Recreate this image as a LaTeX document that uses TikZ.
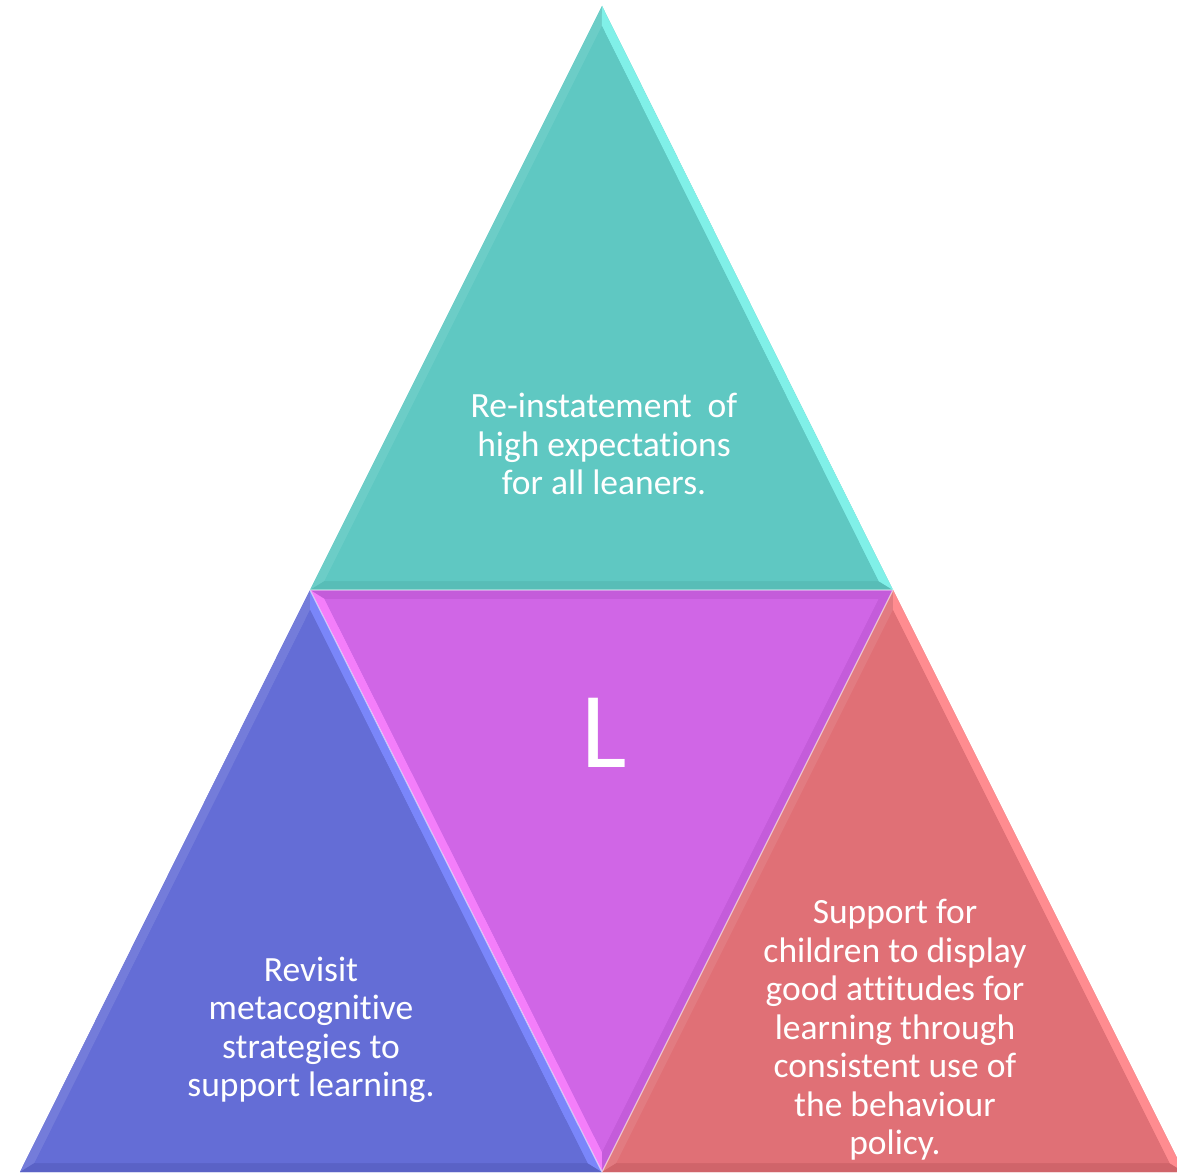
\documentclass[tikz,border=0pt]{standalone}
\usepackage{fontspec}
\setmainfont{Carlito}[Ligatures=NoCommon]
\usetikzlibrary{calc}
\definecolor{tealM}{HTML}{5FC8C2}
\definecolor{tealL}{HTML}{80F0E8}
\definecolor{tealD}{HTML}{58BDB7}
\definecolor{purM}{HTML}{D066E6}
\definecolor{purL}{HTML}{F47EFA}
\definecolor{purD}{HTML}{C45CDA}
\definecolor{bluM}{HTML}{646DD6}
\definecolor{bluL}{HTML}{7A86FA}
\definecolor{bluD}{HTML}{5A62C6}
\definecolor{redM}{HTML}{E07076}
\definecolor{redL}{HTML}{FF8C90}
\definecolor{redD}{HTML}{D0646A}
\tikzset{
  lbl/.style={text=white, align=center, font=\fontsize{35.5}{38.5}\selectfont, inner sep=0pt},
  seam/.style={draw=white, line width=1.2pt, opacity=0.55, line join=round}
}
% \bevtri{A}{B}{C}{I}{main}{colAB}{colBC}{colCA}
\newcommand\bevtri[8]{%
  \coordinate (A') at ($(#1)!0.05!(#4)$);
  \coordinate (B') at ($(#2)!0.05!(#4)$);
  \coordinate (C') at ($(#3)!0.05!(#4)$);
  \fill[#5] (#1) -- (#2) -- (#3) -- cycle;
  \fill[#6] (#1) -- (#2) -- (B') -- (A') -- cycle;
  \fill[#7] (#2) -- (#3) -- (C') -- (B') -- cycle;
  \fill[#8] (#3) -- (#1) -- (A') -- (C') -- cycle;
  \fill[#5] (A') -- (B') -- (C') -- cycle;
}
\begin{document}
\begin{tikzpicture}[x=1pt,y=-1pt]
\useasboundingbox (0,0) rectangle (1177,1172);
\fill[white] (0,0) rectangle (1177,1172);
% vertices
\coordinate (T) at (602,6);
\coordinate (ML) at (310,590);
\coordinate (MR) at (893,590);
\coordinate (BL) at (20,1172);
\coordinate (BM) at (602,1172);
\coordinate (BR) at (1184,1172);
% incentres
\coordinate (It) at (601.5,410);
\coordinate (Im) at (601.5,770);
\coordinate (Il) at (311,992);
\coordinate (Ir) at (893,992);
% triangles
\bevtri{T}{ML}{MR}{It}{tealM}{tealM!92!white}{tealD}{tealL}
\bevtri{ML}{MR}{BM}{Im}{purM}{purD}{purD}{purL}
\bevtri{ML}{BL}{BM}{Il}{bluM}{bluM!90!white}{bluD}{bluL}
\bevtri{MR}{BM}{BR}{Ir}{redM}{redM!92!white}{redD}{redL}
% seams
\draw[seam] (ML) -- (MR) -- (BM) -- cycle;
% labels
\node[lbl] (top) at (604,444) {Re-instatement\ \ of\\high expectations\\for all leaners.};
\node[text=white, font=\fontsize{108}{120}\selectfont, inner sep=0pt] (mid) at (604,733) {L};
\node[lbl] (left) at (311,1030) {Revisit\\metacognitive\\strategies to\\support learning.};
\node[lbl] (right) at (895,1030) {Support for\\children to display\\good attitudes for\\learning through\\consistent use of\\the behaviour\\policy.};
\end{tikzpicture}
\end{document}
